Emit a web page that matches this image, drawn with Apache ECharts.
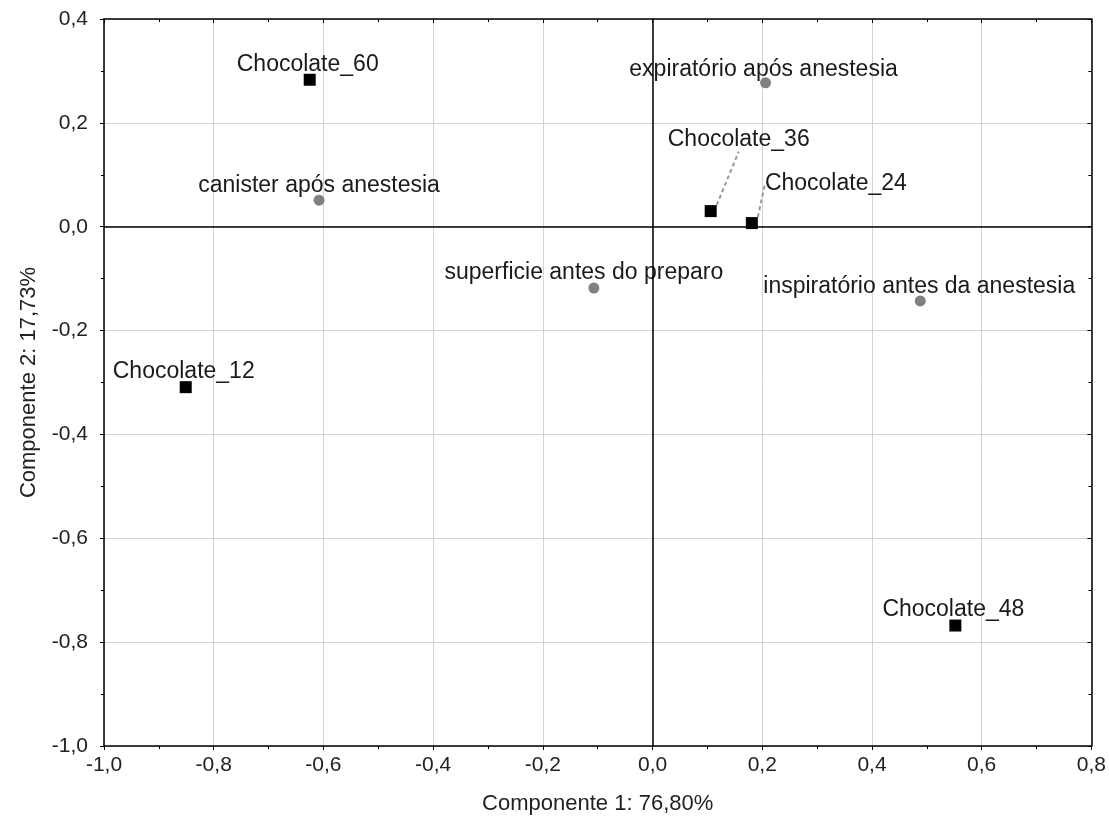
<!DOCTYPE html>
<html>
<head>
<meta charset="utf-8">
<script src="https://cdn.jsdelivr.net/npm/echarts@6/dist/echarts.min.js"></script>
<style>
html,body{margin:0;padding:0;background:#fff;}
#chart{width:1109px;height:826px;}
</style>
</head>
<body>
<div id="chart"></div>
<script>
// ---- data ----
const chocolateNames = ['Chocolate_60', 'Chocolate_36', 'Chocolate_24', 'Chocolate_12', 'Chocolate_48'];
const chocolateX = [-0.625, 0.106, 0.181, -0.851, 0.552];
const chocolateY = [0.283, 0.030, 0.007, -0.309, -0.768];

const sampleNames = ['canister após anestesia', 'expiratório após anestesia', 'superficie antes do preparo', 'inspiratório antes da anestesia'];
const sampleX = [-0.608, 0.206, -0.107, 0.488];
const sampleY = [0.051, 0.277, -0.118, -0.143];

const xTicks = [-1.0, -0.8, -0.6, -0.4, -0.2, 0.0, 0.2, 0.4, 0.6, 0.8];
const yTicks = [-1.0, -0.8, -0.6, -0.4, -0.2, 0.0, 0.2, 0.4];
const xTitle = 'Componente 1: 76,80%';
const yTitle = 'Componente 2: 17,73%';

// label offsets (layout only, pixels)
const chocoLabelOffset = [[-2, -15], [28, -71], [84, -39], [-2, -16], [-2, -16]];
const chocoLeader = [false, true, true, false, false];
const sampleLabelOffset = [[0, -15], [-2, -13], [-10, -15], [-1, -14]];

const fmt = v => (Math.abs(v) < 1e-9 ? 0 : v).toFixed(1).replace('.', ',');
const FONT = 'Liberation Sans, Arial, sans-serif';

const chocoData = chocolateNames.map((n, i) => ({
  name: n, value: [chocolateX[i], chocolateY[i]],
  labelLine: { show: chocoLeader[i] }
}));
const sampleData = sampleNames.map((n, i) => ({ name: n, value: [sampleX[i], sampleY[i]] }));

const axisBase = (extra) => Object.assign({
  type: 'value',
  splitLine: { show: false },
  axisLine: { show: true, onZero: false, lineStyle: { color: '#000', width: 1.5 } },
  axisTick: { show: true, inside: true, length: 4, lineStyle: { color: '#000' } },
  minorTick: { show: true, splitNumber: 2, length: 3, lineStyle: { color: '#000' } },
  axisLabel: { show: false }
}, extra);

const chart = echarts.init(document.getElementById('chart'), null, { renderer: 'canvas' });
chart.setOption({
  animation: false,
  backgroundColor: '#fff',
  textStyle: { fontFamily: FONT },
  grid: { left: 104, right: 17, top: 19, bottom: 80, containLabel: false },
  xAxis: [
    axisBase({
      min: xTicks[0], max: xTicks[xTicks.length - 1], interval: 0.2,
      position: 'bottom',
      splitLine: { show: true, lineStyle: { color: '#d3d3d3', width: 1 } },
      axisTick: { show: true, inside: false, length: 4, lineStyle: { color: '#000' } },
      axisLabel: { show: true, formatter: fmt, fontSize: 21, color: '#222', margin: 9, fontFamily: FONT },
      name: xTitle, nameLocation: 'middle', nameGap: 47,
      nameTextStyle: { fontSize: 22, color: '#222', fontFamily: FONT }
    }),
    axisBase({ min: xTicks[0], max: xTicks[xTicks.length - 1], interval: 0.2, position: 'top' })
  ],
  yAxis: [
    axisBase({
      min: yTicks[0], max: yTicks[yTicks.length - 1], interval: 0.2,
      position: 'left',
      splitLine: { show: true, lineStyle: { color: '#d3d3d3', width: 1 } },
      axisTick: { show: true, inside: false, length: 4, lineStyle: { color: '#000' } },
      axisLabel: { show: true, formatter: fmt, fontSize: 21, color: '#222', margin: 16, fontFamily: FONT },
      name: yTitle, nameLocation: 'middle', nameGap: 64, nameRotate: 90,
      nameTextStyle: { fontSize: 22, color: '#222', fontFamily: FONT }
    }),
    axisBase({ min: yTicks[0], max: yTicks[yTicks.length - 1], interval: 0.2, position: 'right' })
  ],
  series: [
    {
      type: 'scatter', name: 'samples', xAxisIndex: 0, yAxisIndex: 0,
      symbol: 'circle', symbolSize: 11,
      itemStyle: { color: '#808080', opacity: 1 },
      data: sampleData,
      label: { show: true, position: 'inside', formatter: '{b}', color: '#1a1a1a', fontSize: 23, fontFamily: FONT },
      labelLayout: p => ({ dx: sampleLabelOffset[p.dataIndex][0], dy: sampleLabelOffset[p.dataIndex][1] }),
      markLine: {
        silent: true, symbol: 'none', label: { show: false },
        lineStyle: { color: '#000', width: 1.5, type: 'solid' },
        data: [{ xAxis: 0 }, { yAxis: 0 }]
      },
      z: 3
    },
    {
      type: 'scatter', name: 'chocolate', xAxisIndex: 0, yAxisIndex: 0,
      symbol: 'rect', symbolSize: 12,
      itemStyle: { color: '#000', opacity: 1 },
      data: chocoData,
      label: { show: true, position: 'inside', formatter: '{b}', color: '#1a1a1a', fontSize: 23, fontFamily: FONT },
      labelLayout: p => ({ dx: chocoLabelOffset[p.dataIndex][0], dy: chocoLabelOffset[p.dataIndex][1] }),
      labelLine: { show: false, lineStyle: { color: '#999', width: 2, type: [4, 3] } },
      z: 4
    }
  ]
});
</script>
</body>
</html>
